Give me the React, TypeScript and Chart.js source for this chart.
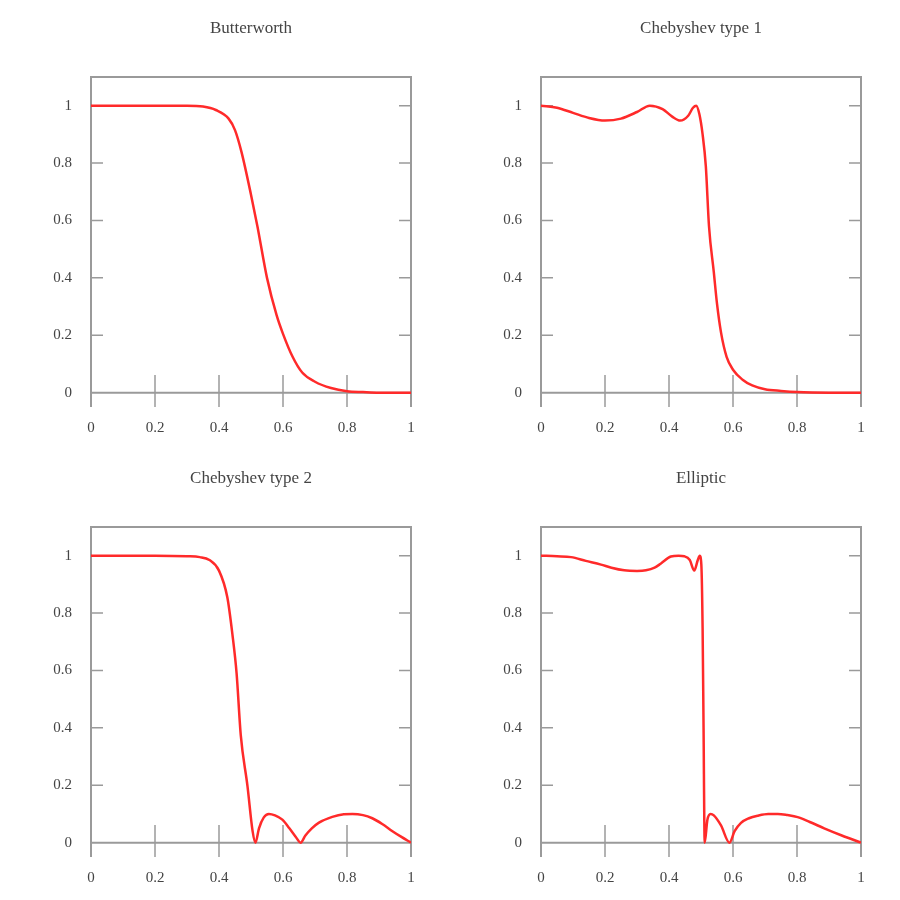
import React, { useEffect, useRef } from "react";
import { Chart, registerables } from "chart.js";

Chart.register(...registerables);

const TITLES = ["Butterworth", "Chebyshev type 1", "Chebyshev type 2", "Elliptic"];

const X_TICKS = [0, 0.2, 0.4, 0.6, 0.8, 1];
const X_TICK_LABELS = ["0", "0.2", "0.4", "0.6", "0.8", "1"];
const Y_TICKS = [0, 0.2, 0.4, 0.6, 0.8, 1];
const Y_TICK_LABELS = ["0", "0.2", "0.4", "0.6", "0.8", "1"];

const BUTTER_X = [0, 0.1, 0.2, 0.3, 0.35, 0.39, 0.43, 0.45, 0.47, 0.5, 0.52, 0.55, 0.58, 0.6, 0.63, 0.66, 0.7, 0.75, 0.8, 0.85, 0.9, 1];
const BUTTER_Y = [1, 1, 1, 1, 0.997, 0.985, 0.955, 0.915, 0.84, 0.69, 0.58, 0.4, 0.27, 0.205, 0.125, 0.07, 0.038, 0.016, 0.005, 0.002, 0, 0];

const CHEB1_X = [0, 0.05, 0.1, 0.15, 0.2, 0.25, 0.3, 0.34, 0.38, 0.41, 0.435, 0.46, 0.475, 0.485, 0.495, 0.505, 0.515, 0.525, 0.54, 0.55, 0.5625, 0.58, 0.6, 0.63, 0.66, 0.7, 0.75, 0.8, 0.9, 1];
const CHEB1_Y = [1, 0.993, 0.975, 0.957, 0.948, 0.955, 0.978, 1.0, 0.988, 0.962, 0.948, 0.965, 0.993, 1.0, 0.97, 0.9, 0.79, 0.58, 0.42, 0.31, 0.21, 0.125, 0.08, 0.045, 0.025, 0.012, 0.006, 0.002, 0, 0];

const CHEB2_X = [0, 0.1, 0.2, 0.3, 0.34, 0.37, 0.4, 0.426, 0.442, 0.455, 0.468, 0.489, 0.505, 0.514, 0.525, 0.54, 0.556, 0.575, 0.598, 0.62, 0.64, 0.655, 0.67, 0.69, 0.7125, 0.754, 0.79, 0.817, 0.85, 0.879, 0.91, 0.942, 0.97, 1];
const CHEB2_Y = [1, 1, 1, 0.998, 0.995, 0.985, 0.948, 0.855, 0.725, 0.59, 0.375, 0.197, 0.04, 0, 0.05, 0.088, 0.1, 0.095, 0.08, 0.05, 0.02, 0, 0.025, 0.05, 0.07, 0.09, 0.099, 0.1, 0.096, 0.085, 0.065, 0.04, 0.02, 0];

const ELLIP_X = [0, 0.05, 0.094, 0.14, 0.1875, 0.22, 0.26, 0.3, 0.328, 0.355, 0.375, 0.406, 0.43, 0.448, 0.465, 0.479, 0.49, 0.496, 0.501, 0.505, 0.508, 0.5115, 0.52, 0.53, 0.54, 0.5625, 0.589, 0.605, 0.625, 0.65, 0.677, 0.71, 0.74, 0.77, 0.802, 0.84, 0.885, 0.94, 1];
const ELLIP_Y = [1, 0.998, 0.995, 0.982, 0.969, 0.958, 0.949, 0.947, 0.949, 0.958, 0.973, 0.997, 1.0, 0.998, 0.985, 0.948, 0.985, 1.0, 0.97, 0.75, 0.4, 0, 0.08, 0.1, 0.095, 0.06, 0, 0.04, 0.069, 0.085, 0.094, 0.1, 0.1, 0.096, 0.089, 0.072, 0.05, 0.025, 0];

const SERIES = [
  [BUTTER_X, BUTTER_Y],
  [CHEB1_X, CHEB1_Y],
  [CHEB2_X, CHEB2_Y],
  [ELLIP_X, ELLIP_Y],
];

const FONT_FAMILY = '"Liberation Serif", "Times New Roman", serif';
const FRAME_COLOR = "#9a9a9a";
const TEXT_COLOR = "#444";

const framePlugin = {
  id: "gnuFrame",
  beforeDatasetsDraw(chart: any) {
    const { ctx, chartArea } = chart;
    const { left, right, top, bottom } = chartArea;
    const xs = chart.scales.x;
    const ys = chart.scales.y;
    ctx.save();
    ctx.strokeStyle = FRAME_COLOR;
    ctx.lineWidth = 2;
    ctx.beginPath();
    ctx.moveTo(left, bottom);
    ctx.lineTo(left, top);
    ctx.lineTo(right, top);
    ctx.lineTo(right, bottom);
    const y0 = ys.getPixelForValue(0);
    ctx.moveTo(left, y0);
    ctx.lineTo(right, y0);
    ctx.stroke();
    ctx.lineWidth = 1.5;
    ctx.beginPath();
    for (const v of Y_TICKS) {
      if (v === 0) continue;
      const py = ys.getPixelForValue(v);
      ctx.moveTo(left, py);
      ctx.lineTo(left + 12, py);
      ctx.moveTo(right, py);
      ctx.lineTo(right - 12, py);
    }
    for (const v of X_TICKS) {
      const px = xs.getPixelForValue(v);
      ctx.moveTo(px, bottom);
      ctx.lineTo(px, bottom - 32);
    }
    ctx.stroke();
    ctx.restore();
  },
};

function FilterPanel({ index }: { index: number }) {
  const ref = useRef<HTMLCanvasElement | null>(null);
  useEffect(() => {
    const [xs, ys] = SERIES[index];
    const chart = new Chart(ref.current as HTMLCanvasElement, {
      type: "scatter",
      data: {
        datasets: [
          {
            data: xs.map((x, i) => ({ x, y: ys[i] })),
            showLine: true,
            borderColor: "#ff2a2a",
            borderWidth: 2.5,
            pointRadius: 0,
            cubicInterpolationMode: "monotone",
            fill: false,
          },
        ],
      },
      options: {
        animation: false,
        responsive: false,
        events: [],
        layout: { padding: { left: 0, right: 39, top: 0, bottom: 0 } },
        plugins: {
          legend: { display: false },
          tooltip: { enabled: false },
          title: {
            display: true,
            text: TITLES[index],
            fullSize: false,
            color: TEXT_COLOR,
            font: { family: FONT_FAMILY, size: 17, weight: "normal", lineHeight: 1.2 },
            padding: { top: 18, bottom: 38.6 },
          },
        },
        scales: {
          x: {
            type: "linear",
            min: 0,
            max: 1,
            grid: { display: false, drawTicks: false },
            border: { display: false },
            afterFit: (s: any) => {
              s.height = 43;
            },
            afterBuildTicks: (s: any) => {
              s.ticks = X_TICKS.map((v) => ({ value: v }));
            },
            ticks: {
              color: TEXT_COLOR,
              font: { family: FONT_FAMILY, size: 15 },
              padding: 12,
              maxRotation: 0,
              callback: (v: any) => {
                const i = X_TICKS.indexOf(Number(v));
                return i >= 0 ? X_TICK_LABELS[i] : "";
              },
            },
          },
          y: {
            type: "linear",
            min: -0.05,
            max: 1.1,
            grid: { display: false, drawTicks: false },
            border: { display: false },
            afterFit: (s: any) => {
              s.width = 91;
            },
            afterBuildTicks: (s: any) => {
              s.ticks = Y_TICKS.map((v) => ({ value: v }));
            },
            ticks: {
              color: TEXT_COLOR,
              font: { family: FONT_FAMILY, size: 15 },
              padding: 19,
              callback: (v: any) => {
                const i = Y_TICKS.indexOf(Number(v));
                return i >= 0 ? Y_TICK_LABELS[i] : "";
              },
            },
          },
        },
      },
      plugins: [framePlugin],
    } as any);
    return () => chart.destroy();
  }, [index]);
  return <canvas ref={ref} width={450} height={450} style={{ display: "block" }} />;
}

export default function App() {
  return (
    <div
      style={{
        position: "fixed",
        left: 0,
        top: 0,
        width: 900,
        height: 900,
        background: "#fff",
      }}
    >
      {[0, 1, 2, 3].map((i) => (
        <div
          key={i}
          style={{
            position: "absolute",
            left: (i % 2) * 450,
            top: Math.floor(i / 2) * 450,
            width: 450,
            height: 450,
          }}
        >
          <FilterPanel index={i} />
        </div>
      ))}
    </div>
  );
}
